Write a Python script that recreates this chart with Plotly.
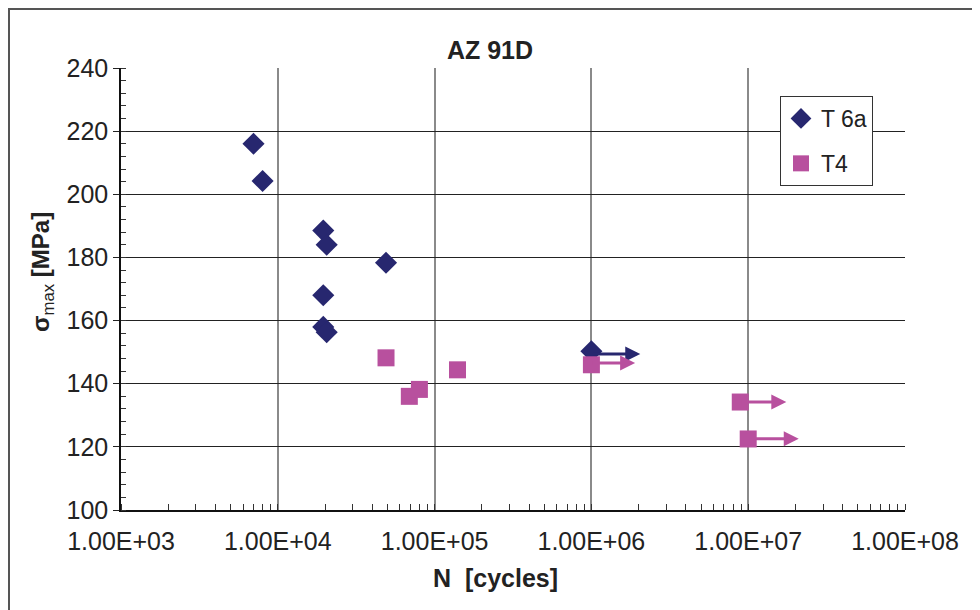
import plotly.graph_objects as go
import math

# ---- data ----
t6a_n = [7000, 8000, 19500, 20500, 19500, 19500, 20500, 49000, 1000000]
t6a_s = [216, 204.2, 188.5, 184, 168, 158, 156.3, 178.3, 150.3]

t4_n = [49000, 69000, 80000, 140000, 1000000, 8900000, 10000000]
t4_s = [148.2, 136, 138.2, 144.4, 146, 134.2, 122.5]

# run-outs (arrows): start N, stress, end N
t6a_run_start = [1000000]
t6a_run_s = [149.4]
t6a_run_end = [2.05e6]

t4_run_start = [1000000, 8900000, 10000000]
t4_run_s = [146.6, 134.2, 122.6]
t4_run_end = [1.9e6, 1.75e7, 2.1e7]

x_tickvals = [1e3, 1e4, 1e5, 1e6, 1e7, 1e8]
x_ticktext = ["1.00E+03", "1.00E+04", "1.00E+05", "1.00E+06", "1.00E+07", "1.00E+08"]
y_tickvals = [100, 120, 140, 160, 180, 200, 220, 240]

NAVY = "#27276F"
MAG = "#B8509E"
FONT = "Liberation Sans, Arial, sans-serif"

# page offset (body margin) compensation
OFF = 8
FW, FH = 980 - OFF, 610 - OFF
L, T, PW, PH = 121 - OFF, 68 - OFF, 784, 442
R = FW - L - PW
B = FH - T - PH


def px(p):  # page pixel x -> paper
    return (p - OFF - L) / PW


def py(p):  # page pixel y -> paper
    return (T + PH - (p - OFF)) / PH


fig = go.Figure()
fig.add_trace(go.Scatter(x=t6a_n, y=t6a_s, mode="markers", name="T 6a",
                         legendgroup="a",
                         marker=dict(symbol="diamond", size=17, color=NAVY,
                                     line=dict(width=0))))
fig.add_trace(go.Scatter(x=t4_n, y=t4_s, mode="markers", name="T4",
                         legendgroup="b",
                         marker=dict(symbol="square", size=17, color=MAG,
                                     line=dict(width=0))))

annotations = []
for xs, ys, xe, col in [(t6a_run_start, t6a_run_s, t6a_run_end, NAVY),
                        (t4_run_start, t4_run_s, t4_run_end, MAG)]:
    for a, s, b in zip(xs, ys, xe):
        annotations.append(dict(x=math.log10(b), y=s, ax=math.log10(a), ay=s,
                                xref="x", yref="y", axref="x", ayref="y",
                                text="", showarrow=True, arrowhead=2,
                                arrowwidth=3, arrowsize=1.0, arrowcolor=col,
                                standoff=0, startstandoff=0))

# axis titles as text
annotations.append(dict(text="<b>N  [cycles]</b>", x=px(495), y=py(578),
                        xref="paper", yref="paper", showarrow=False,
                        font=dict(size=25, color="#222", family=FONT),
                        xanchor="center", yanchor="middle"))
annotations.append(dict(text="<b>σ</b><sub>max</sub><b> [MPa]</b>", x=px(42), y=py(272),
                        xref="paper", yref="paper", showarrow=False, textangle=-90,
                        font=dict(size=24, color="#222", family=FONT),
                        xanchor="center", yanchor="middle"))

fig.update_layout(
    width=FW, height=FH,
    margin=dict(l=L, r=R, t=T, b=B),
    paper_bgcolor="white", plot_bgcolor="white",
    font=dict(family=FONT, color="#222"),
    title=dict(text="<b>AZ 91D</b>", x=px(490), xref="paper", xanchor="center",
               y=1 - (50 - OFF) / FH, yanchor="middle",
               font=dict(size=25, color="#222", family=FONT)),
    showlegend=True,
    legend=dict(x=px(780), y=py(96), xanchor="left", yanchor="top",
                bgcolor="white", bordercolor="#333", borderwidth=1,
                font=dict(size=23, color="#222", family=FONT),
                tracegroupgap=12, traceorder="grouped", itemwidth=30),
    annotations=annotations,
)

fig.update_xaxes(type="log", range=[3, 8], tickvals=x_tickvals, ticktext=x_ticktext,
                 showgrid=True, gridcolor="#8a8a8a", gridwidth=1.5,
                 showline=True, linecolor="#111", linewidth=1.5,
                 ticks="", tickfont=dict(size=25, color="#222", family=FONT),
                 ticklabelstandoff=8,
                 minor=dict(ticks="inside", ticklen=6, tickcolor="#333", tickwidth=1,
                            dtick="D1", showgrid=False),
                 zeroline=False)
fig.update_yaxes(range=[100, 240], tickvals=y_tickvals,
                 showgrid=True, gridcolor="#222", gridwidth=1.2,
                 showline=True, linecolor="#111", linewidth=1.5,
                 ticks="outside", ticklen=6, tickcolor="#222",
                 tickfont=dict(size=25, color="#222", family=FONT),
                 minor=dict(ticks="inside", ticklen=5, tickcolor="#333", dtick=4,
                            showgrid=False),
                 zeroline=False)

# outer frame (drawn just inside the figure's own edge)
fig.add_shape(type="rect", xref="paper", yref="paper",
              x0=px(9), x1=px(974), y0=py(625), y1=py(9),
              line=dict(color="#555", width=2), fillcolor="rgba(0,0,0,0)", layer="below")

fig.write_html("out.html")
